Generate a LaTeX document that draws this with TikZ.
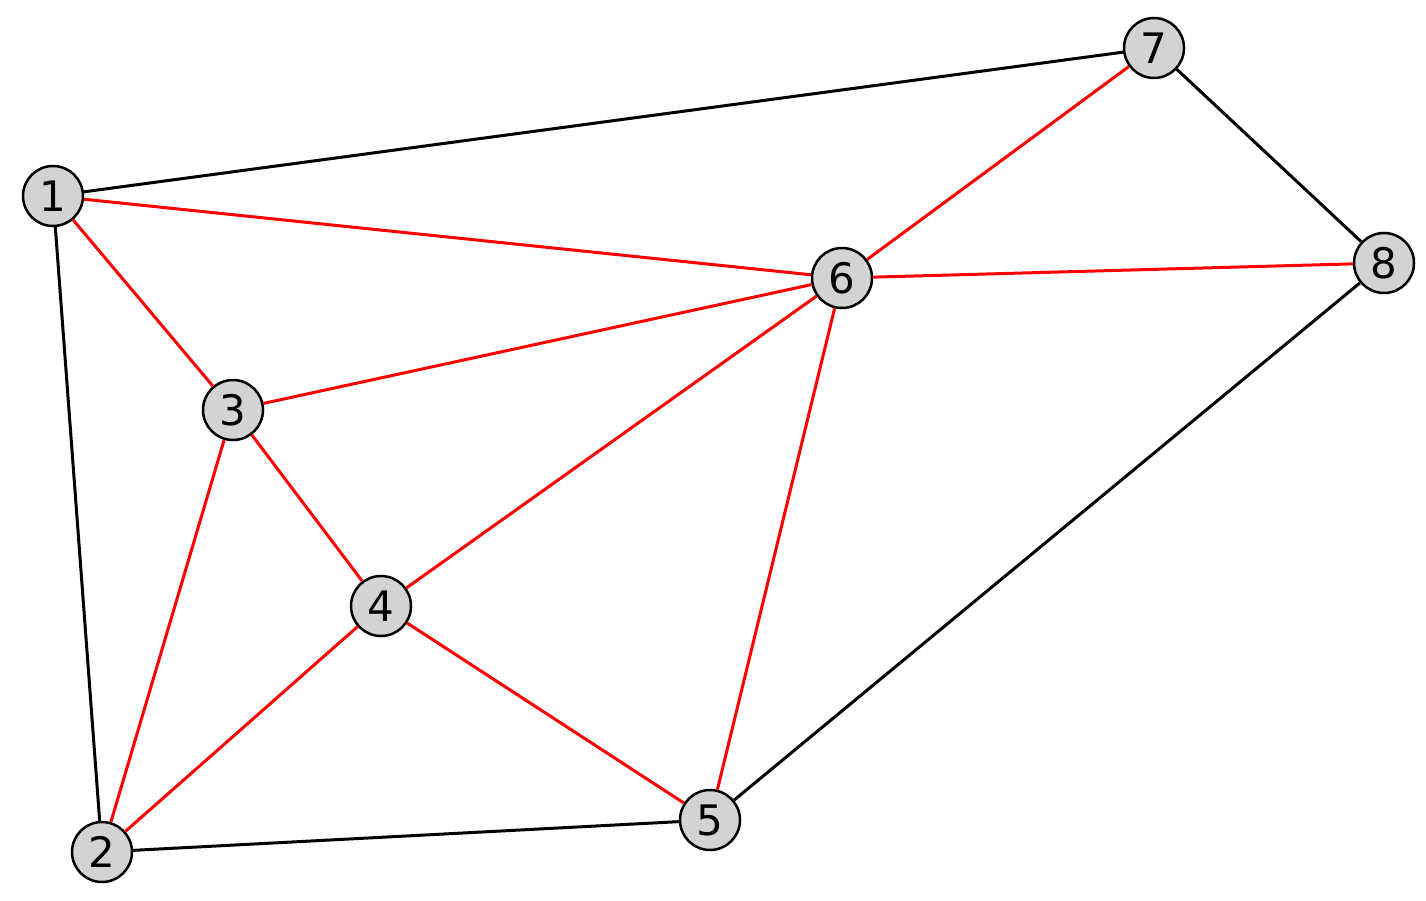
\documentclass[tikz,border=0pt]{standalone}
\usepackage{fontspec}
\setmainfont{DejaVu Sans}
\begin{document}
\begin{tikzpicture}[x=1pt,y=-1pt,
  vert/.style={circle,draw=black,line width=2.5pt,fill={rgb,255:red,211;green,211;blue,211},minimum size=60pt,inner sep=0pt,font=\fontsize{42}{42}\selectfont},
  blk/.style={line width=3pt,black},
  rd/.style={line width=3pt,red}]
\useasboundingbox (0,0) rectangle (1426,901);
\node[vert] (n1) at (53,196) {1};
\node[vert] (n2) at (102,852) {2};
\node[vert] (n3) at (233,410) {3};
\node[vert] (n4) at (381,606) {4};
\node[vert] (n5) at (710,820) {5};
\node[vert] (n6) at (842,278) {6};
\node[vert] (n7) at (1154,48) {7};
\node[vert] (n8) at (1384,263) {8};
\begin{scope}[on background layer/.style={}]
\end{scope}
\draw[blk] (n1) -- (n7);
\draw[blk] (n1) -- (n2);
\draw[blk] (n7) -- (n8);
\draw[blk] (n8) -- (n5);
\draw[blk] (n2) -- (n5);
\draw[rd] (n1) -- (n6);
\draw[rd] (n1) -- (n3);
\draw[rd] (n3) -- (n6);
\draw[rd] (n3) -- (n4);
\draw[rd] (n3) -- (n2);
\draw[rd] (n4) -- (n6);
\draw[rd] (n4) -- (n2);
\draw[rd] (n4) -- (n5);
\draw[rd] (n6) -- (n5);
\draw[rd] (n6) -- (n7);
\draw[rd] (n6) -- (n8);
\end{tikzpicture}
\end{document}
